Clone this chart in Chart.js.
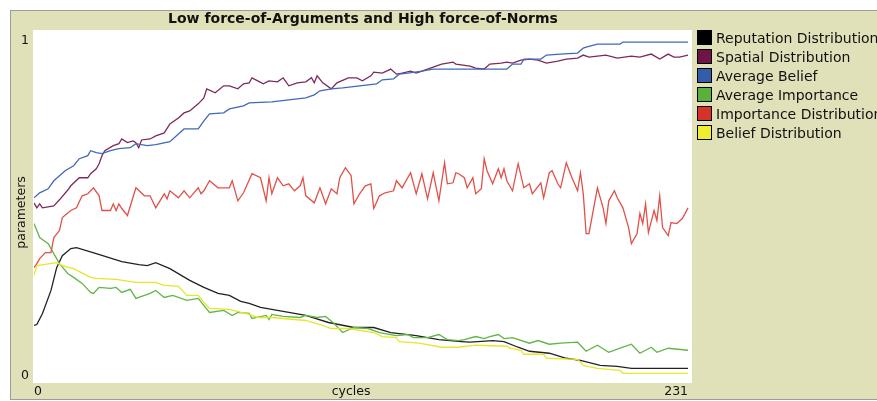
<!DOCTYPE html>
<html><head><meta charset="utf-8">
<script src="https://cdn.jsdelivr.net/npm/chart.js@4.4.1/dist/chart.umd.min.js"></script>
<style>
html,body{margin:0;padding:0;background:#fff;overflow:hidden;width:877px;height:401px;}
#frame{position:absolute;left:10px;top:10px;width:900px;height:388px;background:#e0e0b9;border-left:1px solid #9c9c9c;border-top:1px solid #9c9c9c;border-bottom:1px solid #9c9c9c;}
#wrap{position:absolute;left:0;top:0;width:700px;height:401px;}
#legend{position:absolute;left:697px;top:28px;white-space:nowrap;font:14px "DejaVu Sans";color:#111;}
.item{height:19px;display:flex;align-items:center;}
.sw{width:13px;height:13px;border:1px solid #000;margin-right:4px;flex:none;}
</style></head>
<body>
<div id="frame"></div>
<div id="wrap"><canvas id="c" width="700" height="401"></canvas></div>
<div id="legend"></div>
<script>
const titleText = 'Low force-of-Arguments and High force-of-Norms';
const xTitle = 'cycles';
const yTitle = 'parameters';
const xTicks = [0, 231];
const yTicks = [0, 1];
const seriesNames = ['Reputation Distribution','Spatial Distribution','Average Belief','Average Importance','Importance Distribution','Belief Distribution'];
const swatchColors = ['#000000','#6e1446','#345da9','#59b03c','#d73229','#eded31'];
const lineColors = ['#222222','#7e2a5c','#4169b9','#62b546','#e3504a','#e6e62a'];

const reputation = [[0,0.149],[1,0.152],[3,0.185],[6,0.254],[8,0.322],[10,0.358],[13,0.379],[15,0.382],[22,0.364],[31,0.340],[37,0.331],[40,0.328],[43,0.337],[48,0.319],[55,0.284],[60,0.263],[65,0.245],[69,0.239],[73,0.221],[76,0.215],[80,0.203],[90,0.188],[96,0.179],[104,0.158],[113,0.143],[120,0.143],[126,0.128],[135,0.119],[143,0.107],[151,0.101],[154,0.099],[162,0.104],[166,0.101],[171,0.084],[175,0.072],[182,0.066],[188,0.051],[193,0.045],[200,0.030],[206,0.027],[211,0.021],[231,0.021]];

const spatial = [[0,0.516],[1,0.501],[2,0.513],[3,0.501],[7,0.507],[9,0.525],[12,0.555],[13,0.567],[16,0.591],[19,0.591],[20,0.603],[22,0.618],[23,0.633],[24,0.657],[25,0.672],[28,0.687],[30,0.693],[31,0.707],[33,0.696],[35,0.701],[36,0.696],[37,0.681],[38,0.704],[41,0.707],[43,0.716],[46,0.725],[48,0.752],[51,0.770],[53,0.785],[55,0.791],[58,0.812],[60,0.830],[61,0.857],[64,0.845],[67,0.866],[69,0.866],[72,0.857],[74,0.872],[76,0.875],[77,0.890],[79,0.881],[81,0.872],[83,0.881],[86,0.878],[88,0.890],[90,0.866],[93,0.875],[96,0.878],[98,0.890],[99,0.875],[100,0.896],[102,0.875],[105,0.857],[107,0.875],[111,0.890],[114,0.890],[116,0.881],[119,0.896],[120,0.907],[123,0.904],[126,0.916],[128,0.901],[130,0.904],[133,0.910],[135,0.904],[139,0.916],[142,0.925],[144,0.931],[148,0.937],[149,0.931],[154,0.925],[156,0.919],[159,0.916],[161,0.931],[165,0.934],[167,0.937],[169,0.934],[172,0.943],[175,0.946],[178,0.943],[181,0.934],[185,0.940],[188,0.946],[192,0.949],[194,0.958],[196,0.952],[199,0.955],[202,0.958],[206,0.949],[211,0.955],[214,0.952],[218,0.961],[221,0.946],[224,0.961],[226,0.952],[228,0.952],[231,0.958]];

const avgBelief = [[0,0.531],[2,0.546],[5,0.558],[7,0.582],[9,0.597],[11,0.612],[14,0.627],[16,0.648],[19,0.657],[20,0.672],[22,0.666],[24,0.663],[27,0.672],[30,0.678],[34,0.681],[36,0.693],[40,0.687],[43,0.690],[48,0.699],[51,0.722],[53,0.737],[58,0.737],[60,0.761],[62,0.782],[67,0.785],[69,0.797],[74,0.806],[76,0.815],[84,0.818],[90,0.824],[96,0.830],[99,0.839],[101,0.851],[105,0.857],[109,0.860],[118,0.869],[121,0.872],[123,0.884],[127,0.887],[129,0.901],[132,0.904],[137,0.910],[141,0.916],[167,0.916],[169,0.931],[172,0.931],[173,0.946],[179,0.946],[181,0.958],[186,0.961],[192,0.964],[194,0.979],[195,0.982],[199,0.991],[207,0.991],[208,0.997],[231,0.997]];

const avgImportance = [[0,0.454],[2,0.412],[5,0.394],[7,0.364],[9,0.334],[12,0.304],[14,0.293],[17,0.275],[20,0.248],[21,0.245],[23,0.263],[27,0.260],[29,0.263],[31,0.248],[34,0.257],[36,0.230],[41,0.245],[43,0.254],[46,0.233],[49,0.239],[54,0.224],[58,0.230],[62,0.188],[67,0.194],[70,0.179],[72,0.188],[76,0.185],[77,0.170],[82,0.179],[83,0.167],[84,0.182],[88,0.176],[94,0.173],[96,0.179],[100,0.173],[103,0.176],[106,0.155],[109,0.128],[113,0.143],[118,0.140],[122,0.128],[128,0.119],[132,0.122],[134,0.113],[139,0.113],[143,0.122],[146,0.107],[150,0.104],[152,0.107],[156,0.116],[159,0.110],[161,0.116],[164,0.122],[166,0.110],[169,0.113],[175,0.096],[178,0.104],[182,0.093],[186,0.096],[192,0.099],[195,0.072],[199,0.090],[203,0.069],[208,0.084],[211,0.093],[214,0.066],[218,0.084],[220,0.069],[224,0.081],[231,0.075]];

const importanceDist = [[0,0.322],[1,0.334],[2,0.349],[4,0.367],[6,0.367],[7,0.412],[9,0.433],[10,0.472],[13,0.493],[15,0.501],[17,0.537],[19,0.543],[21,0.561],[23,0.537],[24,0.493],[27,0.493],[28,0.513],[29,0.493],[30,0.513],[31,0.499],[33,0.478],[36,0.561],[39,0.537],[41,0.537],[43,0.501],[46,0.543],[47,0.528],[48,0.552],[51,0.531],[53,0.552],[55,0.531],[58,0.561],[59,0.543],[60,0.552],[62,0.582],[65,0.561],[69,0.561],[70,0.582],[72,0.522],[74,0.546],[77,0.603],[80,0.591],[82,0.522],[83,0.591],[84,0.543],[86,0.591],[88,0.567],[90,0.573],[92,0.552],[94,0.567],[95,0.591],[96,0.537],[99,0.516],[101,0.561],[103,0.513],[105,0.558],[107,0.543],[108,0.591],[110,0.621],[112,0.597],[113,0.513],[115,0.543],[117,0.567],[119,0.573],[120,0.499],[122,0.537],[124,0.546],[127,0.552],[128,0.582],[130,0.561],[133,0.606],[135,0.543],[137,0.603],[139,0.528],[141,0.606],[143,0.522],[145,0.636],[146,0.573],[148,0.576],[149,0.606],[150,0.603],[152,0.591],[153,0.561],[155,0.591],[156,0.543],[158,0.558],[159,0.648],[160,0.612],[162,0.573],[164,0.618],[165,0.591],[166,0.618],[167,0.582],[169,0.552],[171,0.633],[173,0.561],[175,0.573],[176,0.543],[179,0.576],[180,0.531],[182,0.606],[183,0.612],[185,0.573],[186,0.561],[188,0.636],[190,0.591],[192,0.552],[193,0.606],[194,0.543],[195,0.424],[196,0.424],[199,0.561],[201,0.501],[202,0.454],[203,0.522],[205,0.552],[206,0.531],[208,0.501],[210,0.442],[211,0.394],[213,0.424],[214,0.484],[215,0.454],[216,0.513],[217,0.427],[219,0.493],[220,0.463],[221,0.537],[222,0.442],[224,0.418],[225,0.457],[227,0.454],[229,0.469],[231,0.501]];

const beliefDist = [[0,0.299],[1,0.328],[8,0.337],[10,0.328],[14,0.319],[20,0.293],[22,0.290],[29,0.287],[36,0.278],[43,0.278],[46,0.269],[51,0.266],[54,0.239],[58,0.239],[60,0.218],[62,0.200],[69,0.197],[76,0.182],[79,0.173],[84,0.173],[96,0.164],[101,0.152],[105,0.140],[111,0.140],[120,0.128],[123,0.116],[128,0.113],[129,0.101],[136,0.096],[144,0.084],[150,0.084],[156,0.090],[167,0.087],[168,0.081],[172,0.075],[173,0.063],[180,0.063],[181,0.051],[192,0.048],[194,0.030],[199,0.021],[207,0.015],[208,0.006],[231,0.006]];

const seriesData = [reputation, spatial, avgBelief, avgImportance, importanceDist, beliefDist];

// HTML legend
const lg = document.getElementById('legend');
seriesNames.forEach((n,i)=>{
  const d=document.createElement('div'); d.className='item';
  const s=document.createElement('span'); s.className='sw'; s.style.background=swatchColors[i];
  const t=document.createElement('span'); t.textContent=n;
  d.appendChild(s); d.appendChild(t); lg.appendChild(d);
});

const axisFont = {family:'DejaVu Sans', size:12.5};
const plotBg = {id:'plotBg', beforeDraw(c){const a=c.chartArea,x=c.ctx;x.save();x.fillStyle='#ffffff';x.fillRect(a.left-1,a.top,a.right-a.left+1,a.bottom-a.top);x.restore();}};

new Chart(document.getElementById('c'), {
  type:'line',
  data:{datasets: seriesData.map((arr,i)=>({
    label: seriesNames[i],
    data: arr.map(p=>({x:p[0], y:p[1]})),
    borderColor: lineColors[i],
    backgroundColor: lineColors[i],
    borderWidth: 1.3,
    pointRadius: 0,
    tension: 0,
    fill: false,
    order: 10 - i
  }))},
  options:{
    responsive:false, animation:false, devicePixelRatio:1,
    layout:{padding:{left:11,right:8,top:11,bottom:0}},
    plugins:{
      legend:{display:false},
      tooltip:{enabled:false},
      title:{display:true, text:titleText, fullSize:false, color:'#111',
        font:{family:'DejaVu Sans', size:14, weight:'bold'}, padding:{top:0,bottom:2.2}}
    },
    scales:{
      x:{type:'linear', min:0, max:232.4,
        grid:{display:false, drawTicks:false}, border:{display:false},
        afterBuildTicks:s=>{s.ticks = xTicks.map(v=>({value:v}));},
        ticks:{align:'inner', padding:1.5, maxRotation:0, autoSkip:false, color:'#111', font:axisFont, callback:v=>String(v)},
        title:{display:true, text:xTitle+'\u00a0\u00a0\u00a0\u00a0\u00a0\u00a0', color:'#111', font:axisFont, padding:{top:0,bottom:1.5}},
        afterFit:s=>{s.height=18;}
      },
      y:{type:'linear', min:-0.023, max:1.033,
        grid:{display:false, drawTicks:false}, border:{display:false},
        afterBuildTicks:s=>{s.ticks = yTicks.map(v=>({value:v}));},
        ticks:{padding:5, color:'#111', font:axisFont, callback:v=>String(v)},
        title:{display:true, text:yTitle+'\u00a0\u00a0\u00a0', color:'#111', font:axisFont, padding:{top:3.5,bottom:0}},
        afterFit:s=>{s.width=23;}
      }
    }
  },
  plugins:[plotBg]
});
</script>
</body></html>
